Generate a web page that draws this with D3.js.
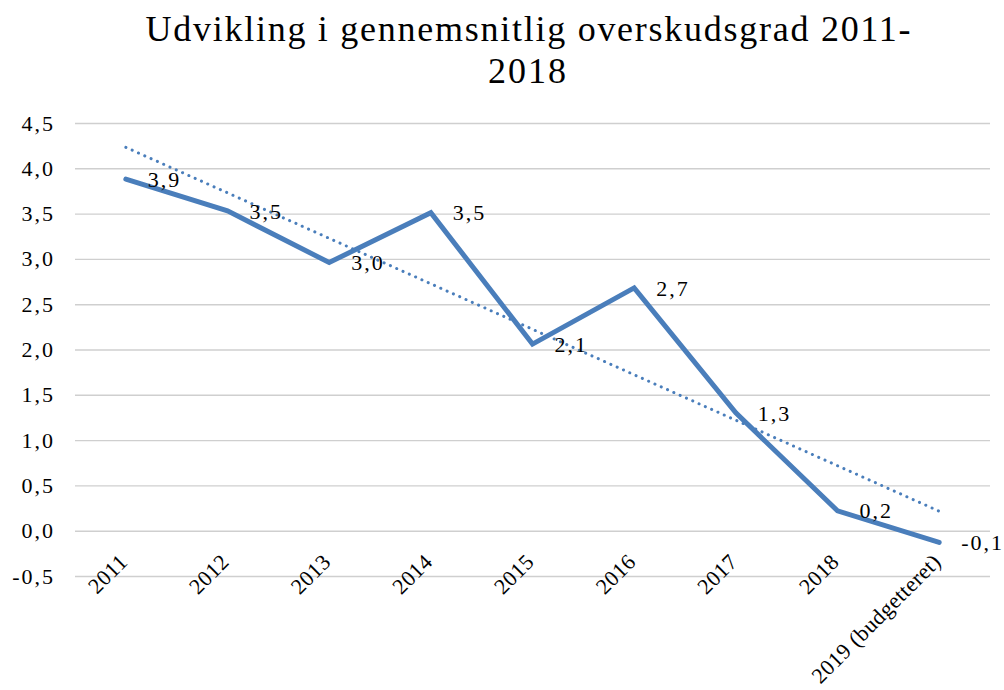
<!DOCTYPE html>
<html>
<head>
<meta charset="utf-8">
<script src="https://cdn.jsdelivr.net/npm/d3@7"></script>
<style>
  html, body { margin: 0; padding: 0; background: #fff; }
  svg { display: block; }
</style>
</head>
<body>
<svg id="chart" width="1004" height="690"></svg>
<script>
const titleLines = ["Udvikling i gennemsnitlig overskudsgrad 2011-", "2018"];
const categories = ["2011", "2012", "2013", "2014", "2015", "2016", "2017", "2018", "2019 (budgetteret)"];
const values = [3.88, 3.53, 2.96, 3.51, 2.06, 2.68, 1.30, 0.22, -0.13];
const labels = ["3,9", "3,5", "3,0", "3,5", "2,1", "2,7", "1,3", "0,2", "-0,1"];
const yTicks = [-0.5, 0, 0.5, 1, 1.5, 2, 2.5, 3, 3.5, 4, 4.5];

(function () {
const FONT = "Liberation Serif";
const svg = d3.select("#chart");
const pL = 75, pR = 990, pT = 123, pB = 576;
const blue = "#4a7ebb";

const x = d3.scaleBand().domain(categories).range([pL, pR]).padding(0);
const y = d3.scaleLinear().domain([-0.5, 4.5]).range([pB, pT]);
const cx = c => x(c) + x.bandwidth() / 2;

// Title
const title = svg.append("g");
[[titleLines[0], 41, 765], [titleLines[1], 83, null]].forEach(([t, yy, w]) => {
  const el = title.append("text")
    .attr("x", 528).attr("y", yy)
    .attr("text-anchor", "middle")
    .attr("font-family", FONT)
    .attr("font-size", 36)
    .attr("fill", "#000")
    .text(t);
  if (w) el.attr("textLength", w).attr("lengthAdjust", "spacing");
  else el.attr("letter-spacing", 2);
});

// Gridlines + y tick labels
const yAxis = d3.axisLeft(y).tickValues(yTicks)
  .tickSize(-(pR - pL))
  .tickFormat(d => d3.format(".1f")(d).replace(".", ",").replace("−", "-"));
const gy = svg.append("g").attr("transform", `translate(${pL},0)`).call(yAxis);
gy.select(".domain").remove();
gy.attr("font-family", FONT).attr("font-size", 22);
gy.selectAll(".tick line").attr("stroke", "#cfcfcf").attr("stroke-width", 1.4);
gy.selectAll(".tick text")
  .attr("x", -20)
  .attr("fill", "#000")
  .attr("letter-spacing", 2);

// X axis labels
const xAxis = d3.axisBottom(x).tickSize(0).tickFormat(d => d);
const gx = svg.append("g").attr("transform", `translate(0,${pB})`).call(xAxis);
gx.select(".domain").remove();
gx.attr("font-family", FONT).attr("font-size", 22);
gx.selectAll(".tick text")
  .attr("fill", "#000")
  .attr("text-anchor", "end")
  .attr("letter-spacing", 0.5)
  .attr("x", 0).attr("y", 0).attr("dy", null)
  .attr("transform", "translate(3,-13) rotate(-45)");

// Trendline (least squares of the series)
const idx = values.map((v, i) => i);
const mx = d3.mean(idx), my = d3.mean(values);
const slope = d3.sum(idx, i => (i - mx) * (values[i] - my)) / d3.sum(idx, i => (i - mx) ** 2);
const icpt = my - slope * mx;
const trend = [0, values.length - 1].map(i => ({ c: categories[i], v: icpt + slope * i }));
svg.append("path")
  .datum(trend)
  .attr("fill", "none")
  .attr("stroke", blue)
  .attr("stroke-width", 3)
  .attr("stroke-linecap", "round")
  .attr("stroke-dasharray", "0.1 6.8")
  .attr("d", d3.line().x(d => cx(d.c)).y(d => y(d.v)));

// Main line
const data = categories.map((c, i) => ({ c, v: values[i], l: labels[i] }));
svg.append("path")
  .datum(data)
  .attr("fill", "none")
  .attr("stroke", blue)
  .attr("stroke-width", 5)
  .attr("stroke-linejoin", "miter")
  .attr("stroke-linecap", "round")
  .attr("d", d3.line().x(d => cx(d.c)).y(d => y(d.v)));

// Data labels
svg.append("g").selectAll("text").data(data).join("text")
  .attr("x", d => cx(d.c) + 22)
  .attr("y", d => y(d.v))
  .attr("dy", "0.35em")
  .attr("font-family", FONT)
  .attr("font-size", 22)
  .attr("letter-spacing", 2)
  .attr("fill", "#000")
  .text(d => d.l);
})();
</script>
</body>
</html>
